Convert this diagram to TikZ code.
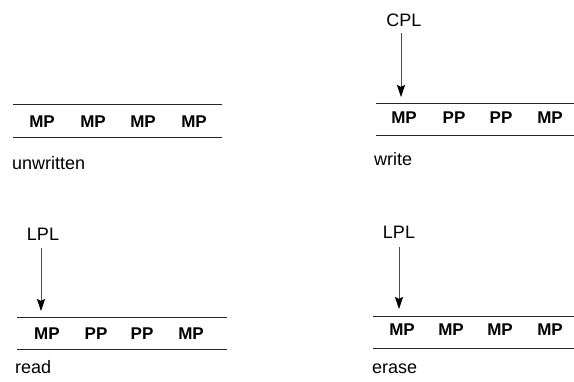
\documentclass[tikz,border=0pt]{standalone}
\usepackage{fontspec}
\setmainfont{Liberation Sans}
\usepackage{tikz}
\usetikzlibrary{arrows.meta}
\tikzstyle{cell} = [font=\fontsize{17}{20}\selectfont\bfseries, inner sep=0pt]
\tikzstyle{caption} = [font=\fontsize{18}{21}\selectfont, inner sep=0pt, anchor=base west]
\tikzstyle{ptr} = [font=\fontsize{18}{21}\selectfont, inner sep=0pt, anchor=base]
\tikzstyle{rail} = [line width=0.8pt, black!85]
\tikzstyle{arrow} = [line width=0.6pt, black!70, -{Stealth[length=12pt, width=8pt, inset=2pt, black]}]

\begin{document}
\begin{tikzpicture}[x=1pt, y=-1pt]
\useasboundingbox (0,0) rectangle (574,382);

% unwritten block
\draw[rail] (13,104) -- (222,104);
\draw[rail] (13,137) -- (222,137);
\node[cell] (u1) at (42,122) {MP};
\node[cell] (u2) at (93,122) {MP};
\node[cell] (u3) at (143,122) {MP};
\node[cell] (u4) at (194,122) {MP};
\node[caption] (unwritten) at (12,170) {unwritten};

% write block
\draw[rail] (376,103) -- (574,103);
\draw[rail] (376,135) -- (574,135);
\node[cell] (w1) at (404,118) {MP};
\node[cell] (w2) at (454,118) {PP};
\node[cell] (w3) at (501,118) {PP};
\node[cell] (w4) at (550,118) {MP};
\node[caption] (write) at (374,166) {write};
\node[ptr] (cpl) at (404,27) {CPL};
\coordinate (cpltip) at (401,97);

% read block
\draw[rail] (17,317) -- (227,317);
\draw[rail] (17,349) -- (227,349);
\node[cell] (r1) at (47,334) {MP};
\node[cell] (r2) at (96,334) {PP};
\node[cell] (r3) at (142,334) {PP};
\node[cell] (r4) at (191,334) {MP};
\node[caption] (read) at (15,374) {read};
\node[ptr] (lplr) at (43,241) {LPL};
\coordinate (lplrtip) at (41,311);

% erase block
\draw[rail] (373,316) -- (574,316);
\draw[rail] (373,348) -- (574,348);
\node[cell] (e1) at (402,330) {MP};
\node[cell] (e2) at (451,330) {MP};
\node[cell] (e3) at (500,330) {MP};
\node[cell] (e4) at (550,330) {MP};
\node[caption] (erase) at (372,374) {erase};
\node[ptr] (lple) at (399,239) {LPL};
\coordinate (lpletip) at (399,309);

% pointers
\draw[arrow] (cpl.south -| cpltip) ++(0,6) -- (cpltip);
\draw[arrow] (lplr.south -| lplrtip) ++(0,7) -- (lplrtip);
\draw[arrow] (lple.south -| lpletip) ++(0,8) -- (lpletip);
\end{tikzpicture}
\end{document}
